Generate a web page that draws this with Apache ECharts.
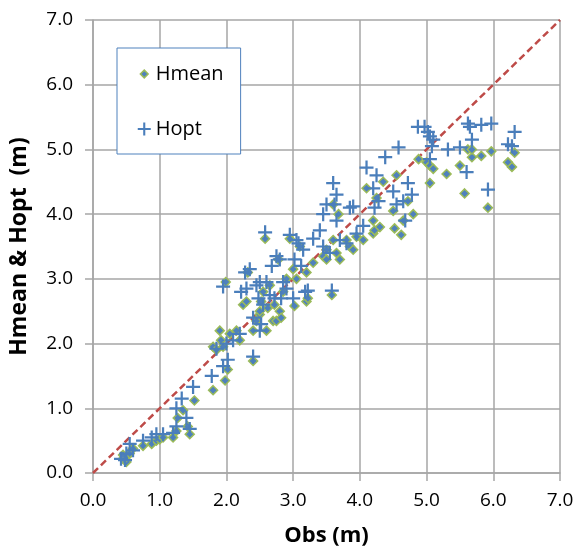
<!DOCTYPE html>
<html>
<head>
<meta charset="utf-8">
<script src="https://cdn.jsdelivr.net/npm/echarts@6/dist/echarts.min.js"></script>
<style>html,body{margin:0;padding:0;background:#fff}#c{width:577px;height:552px}</style>
</head>
<body>
<div id="c"></div>
<script>
var tickLabels = ['0.0','1.0','2.0','3.0','4.0','5.0','6.0','7.0'];
var obsMean = [0.45,0.48,0.5,0.5,0.45,0.55,0.6,0.75,0.88,0.95,1.0,1.05,1.2,1.25,1.27,1.35,1.42,1.45,1.52,1.8,1.98,2.02,1.8,1.85,1.9,1.92,1.95,1.99,2.05,2.15,2.2,2.25,2.3,2.32,2.4,2.4,2.45,2.5,2.5,2.52,2.55,2.58,2.6,2.62,2.65,2.7,2.72,2.75,2.78,2.8,2.82,2.85,2.9,2.95,3.0,3.02,3.05,3.1,3.2,3.2,3.22,3.3,3.45,3.5,3.5,3.58,3.6,3.6,3.65,3.68,3.7,3.8,3.85,3.9,3.95,4.05,4.1,4.2,4.2,4.22,4.25,4.3,4.35,4.5,4.52,4.55,4.62,4.65,4.72,4.8,4.88,5.0,5.05,5.05,5.1,5.3,5.5,5.57,5.62,5.68,5.68,5.82,5.92,5.97,6.22,6.28,6.32];
var hmean = [0.22,0.2,0.17,0.25,0.28,0.3,0.38,0.42,0.45,0.5,0.52,0.55,0.55,0.65,0.85,0.97,0.72,0.6,1.12,1.28,1.43,1.6,1.95,1.9,2.2,2.05,1.95,2.95,2.15,2.2,2.05,2.6,2.65,3.1,2.2,1.73,2.35,2.45,2.5,2.65,2.8,3.62,2.2,2.55,2.9,2.35,2.6,2.35,3.3,2.5,2.4,2.8,3.0,3.62,3.15,2.58,3.0,3.5,3.1,2.65,2.7,3.25,3.35,3.3,3.45,2.75,4.15,3.6,3.4,4.0,3.3,3.6,3.5,3.45,3.65,3.6,4.4,3.7,3.9,3.75,4.25,3.8,4.5,4.05,3.78,4.6,3.68,3.9,4.2,4.0,4.85,4.8,4.75,4.48,4.7,4.62,4.75,4.32,5.0,4.88,5.0,4.9,4.1,4.97,4.8,4.73,4.95];
var obsOpt = [0.42,0.5,0.55,0.6,0.48,0.75,0.88,0.95,1.05,1.2,1.25,1.25,1.33,1.4,1.45,1.5,1.78,1.95,2.02,2.0,1.85,1.95,2.1,2.2,2.22,2.28,2.35,2.3,2.4,2.4,2.45,2.48,2.5,2.52,2.5,2.55,2.58,2.6,2.65,2.68,2.72,2.75,2.8,2.82,2.85,2.9,2.95,3.0,3.02,3.05,3.08,3.12,3.15,3.18,3.22,3.3,3.4,3.45,3.45,3.5,3.55,3.58,3.6,3.62,3.65,3.65,3.7,3.8,3.85,3.9,3.95,4.05,4.1,4.2,4.22,4.25,4.28,4.38,4.5,4.55,4.58,4.65,4.72,4.78,4.68,4.87,4.97,5.02,5.05,5.08,5.05,5.1,5.32,5.5,5.6,5.62,5.65,5.68,5.82,5.92,5.97,6.22,6.28,6.32];
var hopt = [0.22,0.3,0.45,0.35,0.2,0.5,0.55,0.6,0.6,0.62,0.72,1.0,1.15,0.85,0.68,1.33,1.5,1.65,1.75,2.0,1.92,2.88,2.05,2.15,2.8,3.1,3.15,2.85,2.4,1.8,2.9,2.7,2.2,2.3,2.95,2.6,3.72,2.95,2.75,3.2,2.7,3.35,3.3,2.7,2.95,2.85,3.68,2.7,3.3,3.6,3.55,3.2,3.45,2.8,2.82,3.62,3.75,3.5,4.0,4.15,3.4,2.82,4.48,4.15,4.3,3.9,3.6,3.55,4.1,4.12,3.7,3.82,4.72,4.4,4.1,4.6,4.2,4.88,4.35,4.15,5.03,4.2,4.48,4.3,3.9,5.35,5.35,5.27,5.2,5.05,4.85,5.15,5.0,5.03,4.65,5.4,5.35,5.15,5.38,4.38,5.4,5.08,5.05,5.27];
var refLine = [[0,0],[7,7]];

function pairs(xs, ys){ return xs.map(function(x,i){ return [x, ys[i]]; }); }
var plusPath = 'path://M4.2,0H5.8V4.2H10V5.8H5.8V10H4.2V5.8H0V4.2H4.2Z';
var smallDiamond = 'path://M0,0M10,10M5,2L8,5L5,8L2,5Z';
var font = '"Open Sans", "DejaVu Sans", sans-serif';
var gridColor = '#a6a6a6';

var chart = echarts.init(document.getElementById('c'), null, {renderer:'canvas'});
chart.setOption({
  animation: false,
  backgroundColor: '#fff',
  grid: {left: 90, right: 17, top: 20, bottom: 77, containLabel: false},
  legend: {
    orient: 'vertical', left: 117, top: 48,
    backgroundColor: '#fff', borderColor: '#4f81bd', borderWidth: 1,
    padding: [16, 17, 15, 20], itemGap: 35,
    itemWidth: 13, itemHeight: 13,
    textStyle: {fontFamily: font, fontSize: 20, color: '#000'},
    data: [
      {name: 'Hmean', icon: smallDiamond, itemStyle: {color: '#4f81bd', borderColor: '#9bbb59', borderWidth: 1.5}},
      {name: 'Hopt', icon: plusPath, itemStyle: {color: '#4a7ebb'}}
    ]
  },
  xAxis: {
    type: 'value', min: 0, max: 7, interval: 1,
    name: 'Obs (m)', nameLocation: 'middle', nameGap: 52,
    nameTextStyle: {fontFamily: font, fontSize: 22, fontWeight: 'bold', color: '#000'},
    axisLine: {lineStyle: {color: gridColor, width: 1.5}},
    axisTick: {show: true, length: 8, lineStyle: {color: gridColor, width: 1.5}},
    axisLabel: {fontFamily: font, fontSize: 19, color: '#000', margin: 18,
      formatter: function(v){ return tickLabels[Math.round(v)]; }},
    splitLine: {show: true, lineStyle: {color: gridColor, width: 1.5}}
  },
  yAxis: {
    type: 'value', min: 0, max: 7, interval: 1,
    name: 'Hmean & Hopt  (m)', nameLocation: 'middle', nameGap: 62, nameRotate: 90,
    nameTextStyle: {fontFamily: font, fontSize: 23, fontWeight: 'bold', color: '#000'},
    axisLine: {show: true, lineStyle: {color: gridColor, width: 1.5}},
    axisTick: {show: true, length: 8, lineStyle: {color: gridColor, width: 1.5}},
    axisLabel: {fontFamily: font, fontSize: 19, color: '#000', margin: 20,
      formatter: function(v){ return tickLabels[Math.round(v)]; }},
    splitLine: {show: true, lineStyle: {color: gridColor, width: 1.5}}
  },
  series: [
    {
      name: 'ref', type: 'line', data: refLine, symbol: 'none', silent: true,
      lineStyle: {color: '#be4b48', width: 2.5, type: [7, 4]}, z: 1
    },
    {
      name: 'Hmean', type: 'scatter', data: pairs(obsMean, hmean),
      symbol: 'diamond', symbolSize: 9,
      itemStyle: {color: '#4f81bd', borderColor: '#9bbb59', borderWidth: 1.5, opacity: 1}, z: 2
    },
    {
      name: 'Hopt', type: 'scatter', data: pairs(obsOpt, hopt),
      symbol: plusPath, symbolSize: 14,
      itemStyle: {color: '#4a7ebb', opacity: 1}, z: 3
    }
  ]
});
</script>
</body>
</html>
